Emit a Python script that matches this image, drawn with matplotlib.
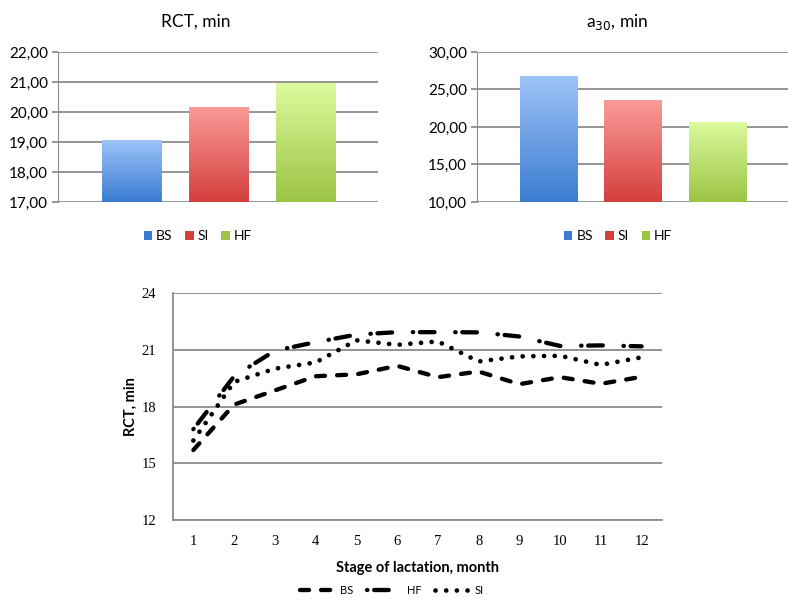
import numpy as np
import matplotlib
matplotlib.use("Agg")
import matplotlib.pyplot as plt
from matplotlib.colors import LinearSegmentedColormap
from matplotlib.patches import Patch

# top bar charts
groups = ["BS", "SI", "HF"]
rct_mean = [19.07, 20.17, 20.97]
a30_mean = [26.75, 23.55, 20.70]
bar_top = ["#9ec4f8", "#fb9b99", "#dcfb9e"]
bar_bottom = ["#3b7cd1", "#d33f3d", "#9cc444"]

# bottom line chart
months = list(range(1, 13))
rct_bs = [15.7, 18.1, 18.85, 19.6, 19.7, 20.15, 19.55, 19.85, 19.18, 19.55, 19.2, 19.57]
rct_hf = [16.8, 19.6, 20.95, 21.4, 21.8, 21.93, 21.93, 21.92, 21.7, 21.2, 21.23, 21.18]
rct_si = [16.2, 19.3, 20.0, 20.33, 21.5, 21.26, 21.44, 20.38, 20.65, 20.68, 20.2, 20.6]

grid_c = "#8c8c8c"
sans = "Lato"
serif = "Liberation Serif"

fig = plt.figure(figsize=(7.88, 6.01), dpi=100)


def bar_panel(rect, values, ymin, ymax, step, title, title_x, legend_x):
    ax = fig.add_axes(rect)
    x = np.arange(len(values))
    bars = ax.bar(x, [v - ymin for v in values], bottom=ymin, width=0.68,
                  facecolor="none", edgecolor="none", zorder=2)
    grad = np.linspace(0, 1, 256).reshape(-1, 1)
    for b, c0, c1 in zip(bars, bar_bottom, bar_top):
        cmap = LinearSegmentedColormap.from_list("g", [c0, c1])
        x0, y0 = b.get_x(), b.get_y()
        im = ax.imshow(grad, extent=(x0, x0 + b.get_width(), y0, y0 + b.get_height()),
                       origin="lower", aspect="auto", cmap=cmap, zorder=2)
        im.set_clip_path(b)
    ax.set_xlim(-0.845, 2.83)
    ax.set_ylim(ymin, ymax)
    ticks = np.arange(ymin, ymax + 0.01, step)
    ax.set_yticks(ticks)
    ax.set_yticklabels([f"{v:.2f}".replace(".", ",") for v in ticks],
                       fontfamily=sans, fontsize=11)
    ax.set_xticks([])
    ax.yaxis.grid(True, color=grid_c, linewidth=1.3, zorder=1)
    ax.set_axisbelow(True)
    for s in ["top", "right", "bottom"]:
        ax.spines[s].set_visible(False)
    ax.spines["left"].set_color(grid_c)
    ax.tick_params(axis="y", color=grid_c, length=4, width=1.3, pad=3)
    fig.text(title_x / 788, 1 - 22 / 601, title, ha="center", va="center",
             fontfamily=sans, fontsize=12.5)
    handles = [Patch(facecolor=c0, edgecolor="none") for c0 in bar_bottom]
    fig.legend(handles, groups, loc="center", bbox_to_anchor=(legend_x / 788, 1 - 236 / 601),
               ncol=3, frameon=False, handlelength=0.6, handleheight=0.6,
               handletextpad=0.3, columnspacing=0.9, prop={"family": sans, "size": 10})
    return ax


bar_panel([58 / 788, 1 - 202 / 601, 320 / 788, 150 / 601], rct_mean, 17, 22, 1,
          "RCT, min", 196, 198)
bar_panel([477 / 788, 1 - 202 / 601, 311 / 788, 150 / 601], a30_mean, 10, 30, 5,
          "a$_{30}$, min", 617, 618)

# line chart
ax = fig.add_axes([173 / 788, 1 - 520 / 601, 489 / 788, 227 / 601])
ax.plot(months, rct_bs, color="black", linewidth=3.1, dash_capstyle="round",
        dashes=(2.1, 2.8), label="BS")
ax.plot(months, rct_hf, color="black", linewidth=3.1, dash_capstyle="round",
        dashes=(0.1, 1.55, 3.4, 4.8), label="HF")
ax.plot(months, rct_si, color="black", linewidth=3.4, dash_capstyle="round",
        dashes=(0.01, 2.25), label="SI")
ax.set_xlim(0.5, 12.5)
ax.set_ylim(12, 24)
ax.set_yticks([12, 15, 18, 21, 24])
ax.set_xticks(months)
ax.yaxis.grid(True, color=grid_c, linewidth=1.3)
ax.set_axisbelow(True)
for s in ["top", "right"]:
    ax.spines[s].set_visible(False)
ax.spines["left"].set_color(grid_c)
ax.spines["bottom"].set_color(grid_c)
ax.spines["left"].set_linewidth(1.3)
ax.spines["bottom"].set_linewidth(1.3)
ax.tick_params(axis="both", length=0, labelsize=10.5)
ax.tick_params(axis="y", pad=12)
ax.tick_params(axis="x", pad=11)
for lbl in ax.get_xticklabels() + ax.get_yticklabels():
    lbl.set_fontfamily(serif)
ax.set_xlabel("Stage of lactation, month", fontfamily=sans, fontweight="bold",
              fontsize=10.5, labelpad=9)
ax.set_ylabel("RCT, min", fontfamily=sans, fontweight="bold", fontsize=10.5, labelpad=3)
ax.legend(loc="center", bbox_to_anchor=(392 / 788, 1 - 590 / 601),
          bbox_transform=fig.transFigure, ncol=3, frameon=False, handlelength=3.2,
          handletextpad=0.4, columnspacing=1.2, prop={"family": sans, "size": 8})

fig.savefig("out.png", dpi=100)
